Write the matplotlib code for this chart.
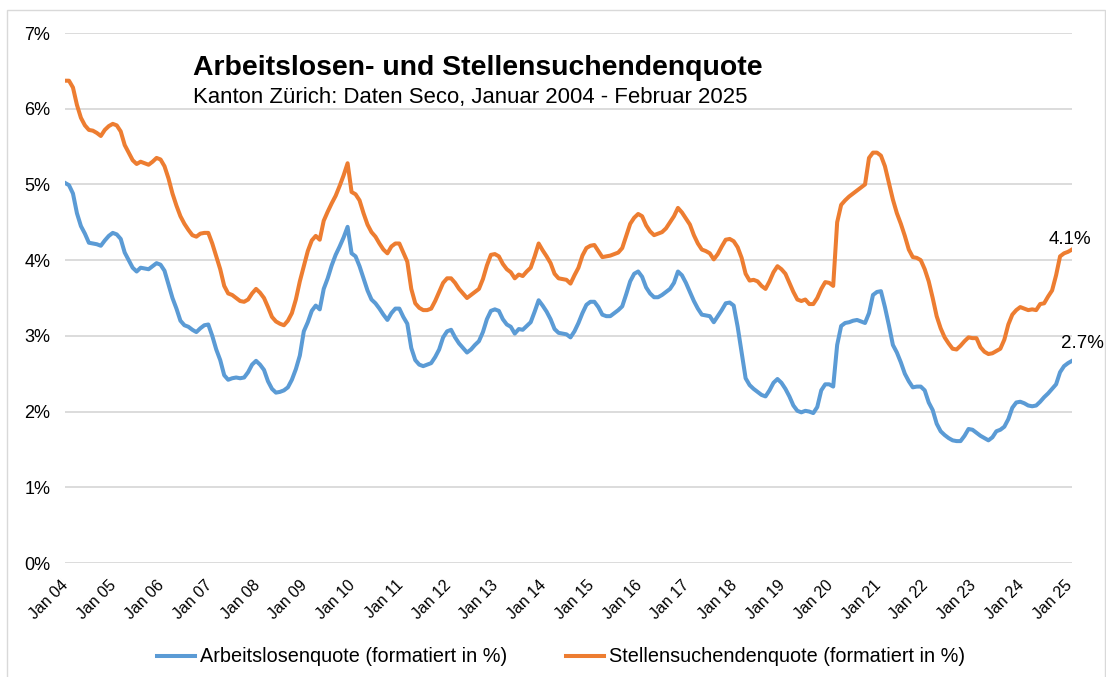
import matplotlib
matplotlib.use('Agg')
import matplotlib.pyplot as plt
from matplotlib.patches import Rectangle
from matplotlib.transforms import ScaledTranslation

plt.rcParams['font.family'] = ['Liberation Sans', 'DejaVu Sans']

# monthly values Jan 2004 - Feb 2025, in percent
arbeitslosen = [
    5.02, 4.99, 4.88, 4.62, 4.45, 4.35, 4.23, 4.22, 4.21, 4.19, 4.26, 4.32,  # 2004
    4.36, 4.34, 4.28, 4.10, 4.00, 3.90, 3.85, 3.90, 3.89, 3.88, 3.92, 3.96,  # 2005
    3.94, 3.86, 3.68, 3.50, 3.36, 3.20, 3.14, 3.12, 3.08, 3.05, 3.10, 3.14,  # 2006
    3.15, 3.00, 2.82, 2.68, 2.48, 2.42, 2.44, 2.45, 2.44, 2.45, 2.52, 2.62,  # 2007
    2.67, 2.62, 2.55, 2.40, 2.30, 2.25, 2.26, 2.28, 2.32, 2.42, 2.56, 2.74,  # 2008
    3.06, 3.18, 3.33, 3.40, 3.35, 3.62, 3.76, 3.93, 4.07, 4.18, 4.30, 4.44,  # 2009
    4.09, 4.05, 3.92, 3.76, 3.60, 3.48, 3.43, 3.36, 3.28, 3.21, 3.30, 3.36,  # 2010
    3.36, 3.25, 3.16, 2.84, 2.68, 2.62, 2.60, 2.62, 2.64, 2.72, 2.82, 2.98,  # 2011
    3.06, 3.08, 2.98, 2.90, 2.84, 2.78, 2.82, 2.88, 2.93, 3.05, 3.22, 3.33,  # 2012
    3.35, 3.33, 3.22, 3.15, 3.12, 3.03, 3.09, 3.08, 3.13, 3.18, 3.32, 3.47,  # 2013
    3.40, 3.32, 3.22, 3.09, 3.04, 3.03, 3.02, 2.98, 3.06, 3.17, 3.30, 3.41,  # 2014
    3.45, 3.45, 3.38, 3.28, 3.26, 3.26, 3.30, 3.34, 3.39, 3.55, 3.72, 3.82,  # 2015
    3.85, 3.78, 3.64, 3.56, 3.51, 3.51, 3.54, 3.58, 3.62, 3.70, 3.85, 3.80,  # 2016
    3.70, 3.58, 3.46, 3.36, 3.28, 3.27, 3.26, 3.18, 3.26, 3.34, 3.43, 3.44,  # 2017
    3.40, 3.12, 2.78, 2.44, 2.35, 2.30, 2.26, 2.22, 2.20, 2.28, 2.38, 2.43,  # 2018
    2.38, 2.30, 2.20, 2.08, 2.01, 1.99, 2.01, 2.00, 1.98, 2.06, 2.28, 2.36,  # 2019
    2.36, 2.33, 2.88, 3.13, 3.17, 3.18, 3.20, 3.21, 3.19, 3.17, 3.30, 3.54,  # 2020
    3.58, 3.59, 3.38, 3.14, 2.88, 2.78, 2.65, 2.50, 2.40, 2.32, 2.33, 2.33,  # 2021
    2.28, 2.12, 2.02, 1.84, 1.74, 1.69, 1.65, 1.62, 1.61, 1.61, 1.68, 1.77,  # 2022
    1.76, 1.72, 1.68, 1.65, 1.62, 1.66, 1.74, 1.76, 1.80, 1.90, 2.05, 2.12,  # 2023
    2.13, 2.11, 2.08, 2.07, 2.08, 2.13, 2.19, 2.24, 2.30, 2.36, 2.52, 2.60,  # 2024
    2.64, 2.67,                                                              # 2025
]

stellensuchende = [
    6.37, 6.37, 6.28, 6.05, 5.88, 5.78, 5.72, 5.71, 5.68, 5.64, 5.72, 5.77,  # 2004
    5.80, 5.78, 5.70, 5.52, 5.42, 5.32, 5.27, 5.30, 5.28, 5.26, 5.30, 5.35,  # 2005
    5.33, 5.24, 5.08, 4.88, 4.72, 4.58, 4.48, 4.40, 4.33, 4.31, 4.35, 4.36,  # 2006
    4.36, 4.22, 4.05, 3.88, 3.66, 3.56, 3.54, 3.50, 3.46, 3.45, 3.48, 3.56,  # 2007
    3.62, 3.57, 3.50, 3.38, 3.25, 3.19, 3.16, 3.14, 3.20, 3.30, 3.48, 3.72,  # 2008
    3.92, 4.12, 4.26, 4.32, 4.27, 4.52, 4.64, 4.75, 4.85, 4.98, 5.12, 5.28,  # 2009
    4.90, 4.87, 4.79, 4.62, 4.47, 4.37, 4.31, 4.22, 4.14, 4.09, 4.18, 4.22,  # 2010
    4.22, 4.10, 3.98, 3.62, 3.43, 3.37, 3.34, 3.34, 3.36, 3.46, 3.58, 3.70,  # 2011
    3.76, 3.76, 3.70, 3.62, 3.56, 3.50, 3.54, 3.58, 3.62, 3.75, 3.93, 4.07,  # 2012
    4.08, 4.05, 3.95, 3.88, 3.84, 3.76, 3.81, 3.79, 3.85, 3.90, 4.05, 4.22,  # 2013
    4.13, 4.05, 3.96, 3.82, 3.76, 3.75, 3.74, 3.69, 3.80, 3.90, 4.06, 4.16,  # 2014
    4.19, 4.20, 4.12, 4.04, 4.05, 4.06, 4.08, 4.10, 4.16, 4.32, 4.48, 4.56,  # 2015
    4.61, 4.58, 4.46, 4.38, 4.33, 4.35, 4.37, 4.42, 4.50, 4.58, 4.69, 4.63,  # 2016
    4.55, 4.47, 4.33, 4.22, 4.14, 4.12, 4.09, 4.01, 4.08, 4.18, 4.27, 4.28,  # 2017
    4.25, 4.17, 4.03, 3.82, 3.73, 3.74, 3.72, 3.66, 3.62, 3.72, 3.84, 3.92,  # 2018
    3.88, 3.82, 3.70, 3.58, 3.48, 3.46, 3.48, 3.42, 3.42, 3.50, 3.62, 3.71,  # 2019
    3.70, 3.66, 4.50, 4.73, 4.79, 4.84, 4.88, 4.92, 4.96, 5.00, 5.35, 5.42,  # 2020
    5.42, 5.38, 5.24, 5.02, 4.80, 4.62, 4.48, 4.32, 4.14, 4.04, 4.03, 4.00,  # 2021
    3.88, 3.72, 3.50, 3.26, 3.10, 2.98, 2.90, 2.83, 2.82, 2.87, 2.93, 2.98,  # 2022
    2.97, 2.97, 2.85, 2.79, 2.76, 2.77, 2.80, 2.83, 2.95, 3.15, 3.28, 3.34,  # 2023
    3.38, 3.36, 3.34, 3.35, 3.34, 3.42, 3.43, 3.52, 3.60, 3.80, 4.05, 4.09,  # 2024
    4.11, 4.14,                                                              # 2025
]

years = ['04', '05', '06', '07', '08', '09', '10', '11', '12', '13', '14',
         '15', '16', '17', '18', '19', '20', '21', '22', '23', '24', '25']
tick_labels = ['Jan ' + y for y in years]
y_ticks = [0, 1, 2, 3, 4, 5, 6, 7]

BLUE = '#5B9BD5'
ORANGE = '#ED7D31'

W, H = 1106, 677
fig = plt.figure(figsize=(W / 100, H / 100), dpi=100)
fig.patch.set_facecolor('white')

# chart border like in excel
fig.add_artist(Rectangle((7 / W, -0.05), (1105 - 7) / W, 1.05 - 10 / H,
                         transform=fig.transFigure, fill=False,
                         edgecolor='#d9d9d9', linewidth=1.0))

ax = fig.add_axes([65 / W, (H - 563) / H, 1007 / W, 530 / H])
months = list(range(len(arbeitslosen)))
ax.plot(months, arbeitslosen, color=BLUE, linewidth=2.9,
        label='Arbeitslosenquote (formatiert in %)', solid_joinstyle='round')
ax.plot(months, stellensuchende, color=ORANGE, linewidth=2.9,
        label='Stellensuchendenquote (formatiert in %)', solid_joinstyle='round')

ax.set_xlim(0, len(months) - 1)
ax.set_ylim(0, 7)
ax.set_yticks(y_ticks)
ax.set_yticklabels([str(v) + '%' for v in y_ticks], fontsize=13)
ax.set_xticks(range(0, 12 * len(tick_labels), 12))
ax.set_xticklabels(tick_labels, fontsize=11.5, rotation=45, ha='right', va='top',
                   rotation_mode='anchor')
ax.tick_params(axis='both', length=0, colors='#000000')
ax.tick_params(axis='y', pad=10.5)
ax.tick_params(axis='x', pad=10.5)
shift = ScaledTranslation(-4 / 100, 0, fig.dpi_scale_trans)
for lab in ax.get_xticklabels():
    lab.set_transform(lab.get_transform() + shift)
ax.grid(axis='y', color='#d9d9d9', linewidth=1.3)
ax.set_axisbelow(True)
for s in ax.spines.values():
    s.set_visible(False)

# last values
ax.annotate('4.1%', xy=(months[-1], stellensuchende[-1]), xytext=(-17, 4),
            textcoords='offset points', fontsize=13.5, ha='left', va='baseline')
ax.annotate('2.7%', xy=(months[-1], arbeitslosen[-1]), xytext=(-8, 9.5),
            textcoords='offset points', fontsize=13.5, ha='left', va='baseline')

fig.text(193 / W, 1 - 75 / H, 'Arbeitslosen- und Stellensuchendenquote',
         fontsize=20.4, fontweight='bold', ha='left', va='baseline')
fig.text(193 / W, 1 - 103 / H, 'Kanton Zürich: Daten Seco, Januar 2004 - Februar 2025',
         fontsize=15.9, ha='left', va='baseline')

fig.legend(loc='center', bbox_to_anchor=(561 / W, 1 - 657 / H), ncol=2,
           frameon=False, fontsize=14.3, handlelength=1.9, handletextpad=0.25,
           columnspacing=2.95)

fig.savefig('out.png', dpi=100)
